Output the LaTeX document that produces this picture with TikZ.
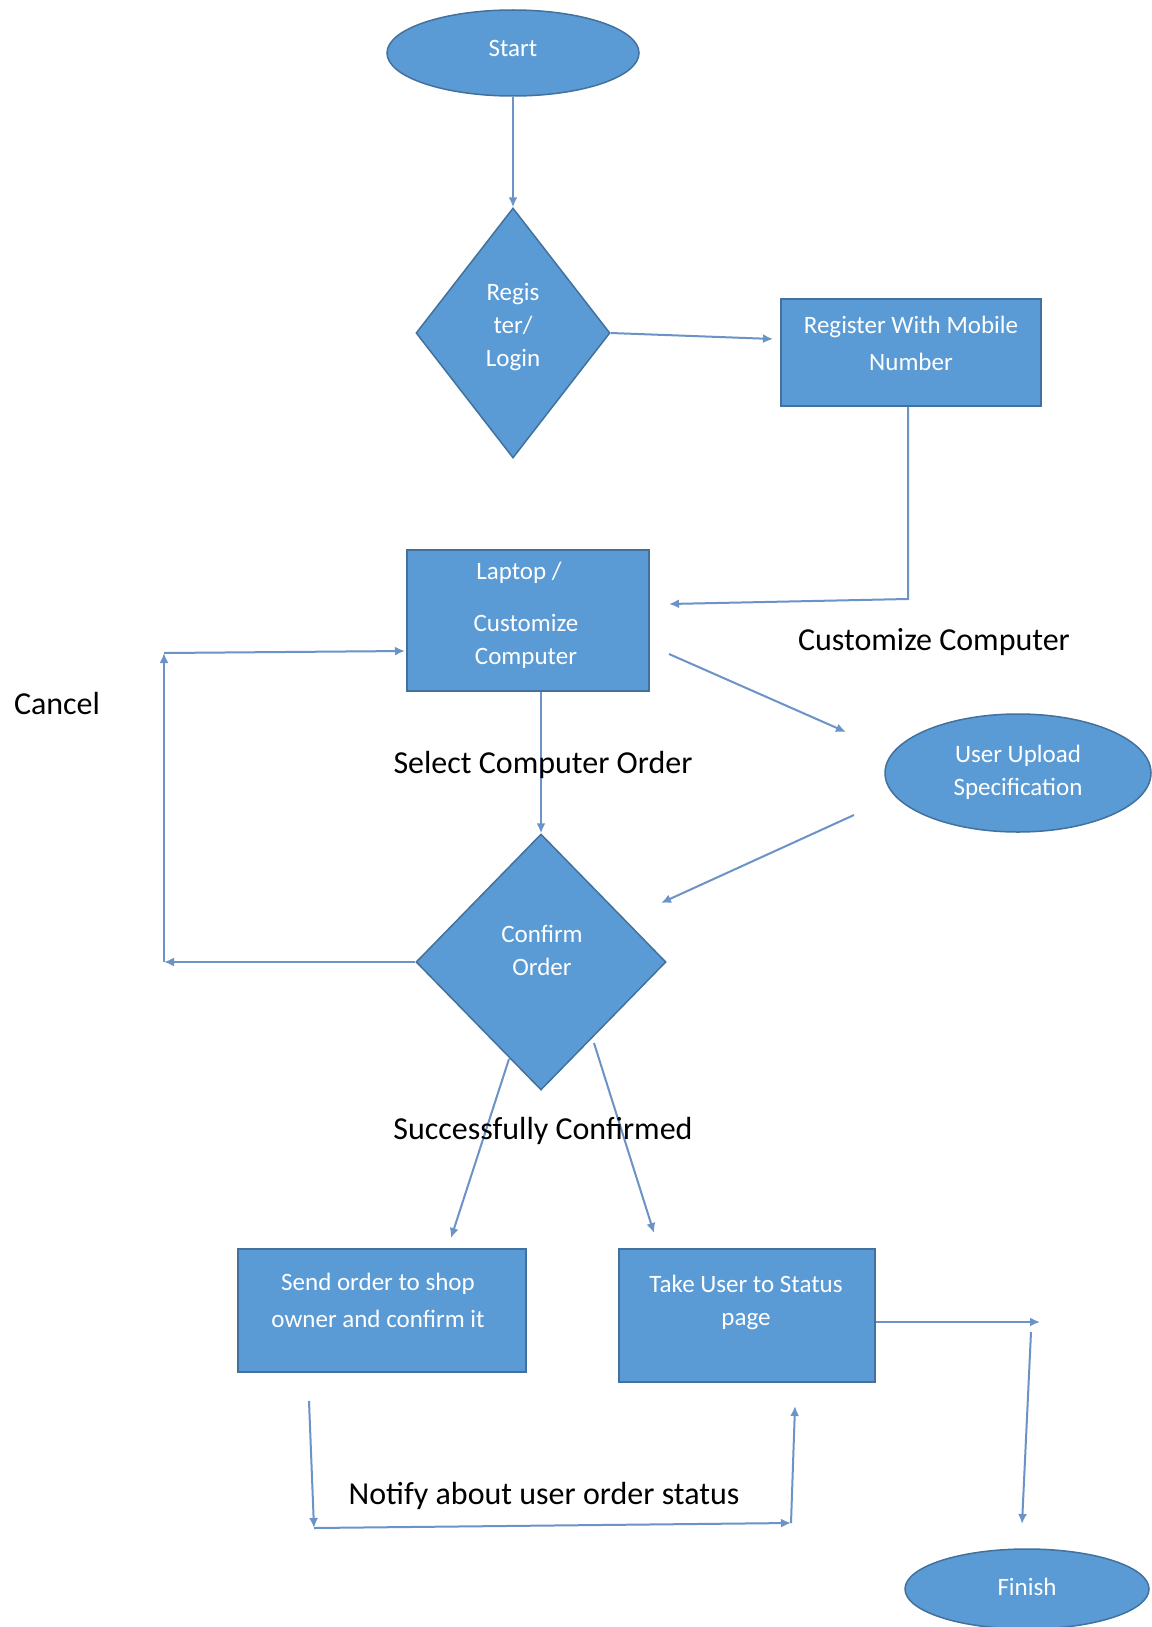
\documentclass[tikz,border=0pt]{standalone}
\usepackage{fontspec}
\setmainfont{Carlito}
\usetikzlibrary{shapes.geometric,arrows.meta,calc}
\definecolor{fillblue}{HTML}{5B9BD5}
\definecolor{edgeblue}{HTML}{41719C}
\definecolor{lineblue}{HTML}{6B93C7}
\begin{document}
\begin{tikzpicture}[x=1pt,y=-1pt,
 shapebase/.style={fill=fillblue,draw=edgeblue,line width=1.5pt,inner sep=0pt},
 oval/.style={shapebase,ellipse},
 dia/.style={shapebase,diamond},
 boxnode/.style={shapebase,rectangle},
 intext/.style={text=white,font=\fontsize{25}{33}\selectfont,align=center,inner sep=0pt},
 lbl/.style={text=black,font=\fontsize{32}{38}\selectfont,inner sep=0pt},
 conn/.style={draw=lineblue,line width=2pt},
 arr/.style={conn,-{Latex[length=10pt,width=9pt]}},
]
\useasboundingbox[fill=white] (0,0) rectangle (1151,1627);

% shapes
\node[oval,minimum width=252pt,minimum height=86pt] (start) at (513,53) {};
\node[intext] (startt) at (513,48) {Start};

\node[dia,minimum width=194pt,minimum height=250pt] (reg) at (513,333) {};
\node[intext] (regt) at (513,327) {Regis\\ter/\\Login};

\node[boxnode,minimum width=260pt,minimum height=107pt] (mob) at (911,352.5) {};
\node[intext] (mobt) at (911,343.5) {Register With Mobile\\[4pt]Number};

\node[boxnode,minimum width=242pt,minimum height=141pt] (lap) at (528,620.5) {};
\node[intext] (lapt1) at (519,573) {Laptop /};
\node[intext] (lapt2) at (526,641.5) {Customize\\Computer};

\node[oval,minimum width=266pt,minimum height=118pt] (upl) at (1018,773) {};
\node[intext] (uplt) at (1018,772) {User Upload\\Specification};

\node[dia,minimum width=250pt,minimum height=256pt] (conf) at (541,962) {};
\node[intext] (conft) at (542,950) {Confirm\\Order};

\node[boxnode,minimum width=288pt,minimum height=123pt] (send) at (382,1310.5) {};
\node[intext] (sendt) at (378,1300.5) {Send order to shop\\[4pt]owner and confirm it};

\node[boxnode,minimum width=256pt,minimum height=133pt] (take) at (747,1315.5) {};
\node[intext] (taket) at (746,1302.5) {Take User to Status\\page};

\node[oval,minimum width=244pt,minimum height=80pt] (fin) at (1027,1589) {};
\node[intext] (fint) at (1027,1587) {Finish};

% connectors
\draw[arr] (start) -- (reg);

\coordinate (c1) at (773,339);
\draw[arr] (reg.east) -- (c1);

\coordinate (c2a) at (908,599);
\coordinate (c2b) at (669,604);
\draw[arr] (mob.south -| c2a) -- (c2a) -- (c2b);

\coordinate (c3a) at (669,654);
\coordinate (c3b) at (846,732);
\draw[arr] (c3a) -- (c3b);

\coordinate (c4a) at (854,815);
\coordinate (c4b) at (661,903);
\draw[arr] (c4a) -- (c4b);

\draw[arr] (lap.south -| conf.north) -- (conf.north);

\coordinate (k1) at (164,962);
\coordinate (k2) at (164,653);
\coordinate (k3) at (405,651);
\draw[arr] (conf.west) -- (k1);
\draw[arr] (k1) -- (k2);
\draw[arr] (k2) -- (k3);

\coordinate (s1) at (509,1059);
\coordinate (s2) at (451,1238);
\draw[arr] (s1) -- (s2);

\coordinate (t1) at (594,1043);
\coordinate (t2) at (654,1233);
\draw[arr] (t1) -- (t2);

\coordinate (f1) at (1040,1322);
\draw[arr] (take.east |- f1) -- (f1);
\coordinate (f2) at (1031,1332);
\coordinate (f3) at (1022,1524);
\draw[arr] (f2) -- (f3);

\coordinate (n0) at (309,1401);
\coordinate (n1) at (314,1528);
\coordinate (n2) at (791,1523);
\coordinate (n3) at (795,1406);
\draw[arr] (n0) -- (n1);
\draw[arr] (n1) -- (n2);
\draw[arr] (n2) -- (n3);

% labels
\node[lbl] (lcc) at (934,642) {Customize Computer};
\node[lbl] (lsco) at (543,765) {Select Computer Order};
\node[lbl] (lcan) at (57,703) {Cancel};
\node[lbl] (lsuc) at (543,1131) {Successfully Confirmed};
\node[lbl] (lnot) at (544,1496) {Notify about user order status};
\end{tikzpicture}
\end{document}
